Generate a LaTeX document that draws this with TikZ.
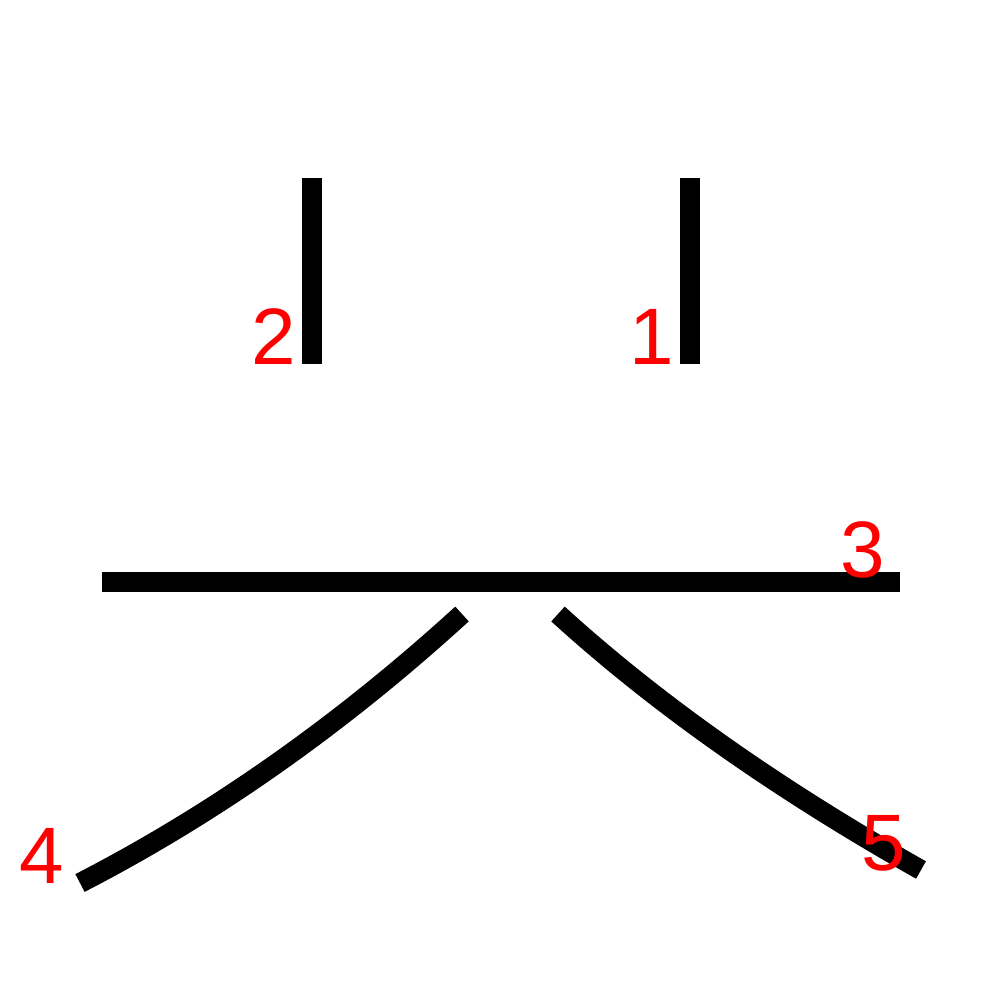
\documentclass[tikz,border=0pt]{standalone}
\usepackage{fontspec}
\setmainfont{Liberation Sans}
\begin{document}
\begin{tikzpicture}[x=0.01cm,y=-0.01cm,
  strokeline/.style={line width=0.2cm, black, line cap=butt},
  numlabel/.style={text=red, inner sep=0pt, anchor=base, font=\fontsize{22.76pt}{27pt}\selectfont}]
\useasboundingbox (0,0) rectangle (1000,1000);
% strokes
\coordinate (s1a) at (690,178); \coordinate (s1b) at (690,364);
\coordinate (s2a) at (312,178); \coordinate (s2b) at (312,364);
\coordinate (s3a) at (102,582); \coordinate (s3b) at (900,582);
\coordinate (s4a) at (462,614); \coordinate (s4b) at (80,883);
\coordinate (s5a) at (558,614); \coordinate (s5b) at (921,870);
\draw[strokeline] (s1a) -- (s1b);
\draw[strokeline] (s2a) -- (s2b);
\draw[strokeline] (s3a) -- (s3b);
\draw[strokeline] (s4a) .. controls (340.7,724.7) and (213.3,814.3) .. (s4b);
\draw[strokeline] (s5a) .. controls (656,703.3) and (777,788.7) .. (s5b);
% labels
\node[numlabel] (n1) at (651.5,364) {1};
\node[numlabel] (n2) at (274,364) {2};
\node[numlabel] (n3) at (862.5,577) {3};
\node[numlabel] (n4) at (42,883) {4};
\node[numlabel] (n5) at (884,870) {5};
\end{tikzpicture}
\end{document}
